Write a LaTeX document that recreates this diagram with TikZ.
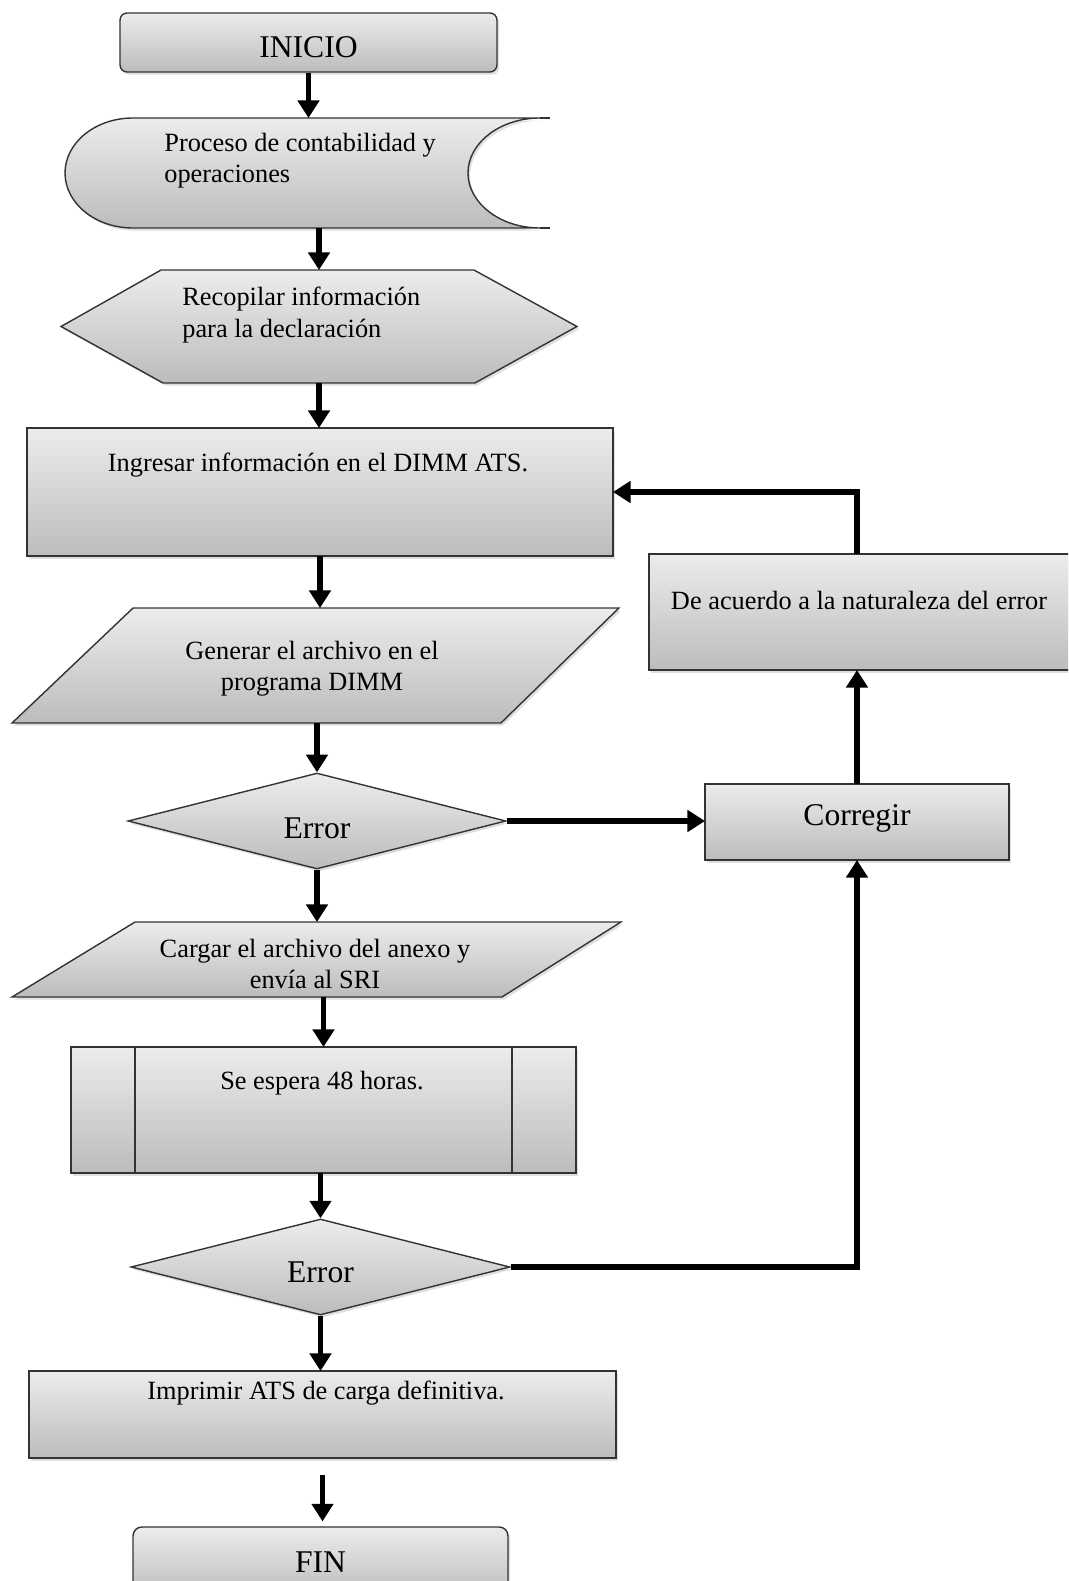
\documentclass[tikz,border=0pt]{standalone}
\usepackage{fontspec}
\setmainfont{Liberation Serif}
\definecolor{boxtop}{RGB}{236,236,236}
\definecolor{boxbot}{RGB}{188,188,188}
\usetikzlibrary{shapes.geometric, arrows.meta, calc, shadows}

\begin{document}
\begin{tikzpicture}[
  x=0.02cm, y=-0.02cm,
  boxfill/.style={draw=black!80, line width=0.8pt, top color=boxtop, bottom color=boxbot,
    drop shadow={opacity=0.25, shadow xshift=1.2pt, shadow yshift=-1.5pt}},
  boxframe/.style={inner sep=0pt, outer sep=0pt},
  txt/.style={font=\fontsize{15}{17.8}\selectfont, align=center, inner sep=0pt},
  bigtxt/.style={font=\fontsize{18}{21}\selectfont},
  flow/.style={line width=3.4pt, -{Triangle[width=12pt, length=10pt]}}
]
  \useasboundingbox (0,0) rectangle (1068,1581);
  \clip (0,0) rectangle (1068,1581);

  % main column
  \node[boxfill, rounded corners=4pt, minimum width=7.54cm, minimum height=1.18cm, bigtxt] (inicio) at (308.5,42.5) {\raisebox{-2.5pt}[\height][\depth]{INICIO}};

  \node[boxframe, minimum width=9.7cm, minimum height=2.2cm] (proceso) at (307.5,173) {};
  \draw[boxfill] (133,118) -- (540,118) .. controls (500,118) and (468,143) .. (468,173)
    .. controls (468,203) and (500,228) .. (540,228) -- (133,228)
    .. controls (95,228) and (65,203) .. (65,173) .. controls (65,143) and (95,118) .. (133,118) -- cycle;
  \draw[line width=0.8pt, draw=black!80] (540,118) -- (550,118) (540,228) -- (550,228);
  \node[txt, align=left, anchor=west] (proceso-t) at (164,161) {Proceso de contabilidad y\\operaciones};

  \node[boxframe, minimum width=10.32cm, minimum height=2.26cm] (recopilar) at (319,326.5) {};
  \draw[boxfill] (recopilar.west) -- ($(recopilar.north west)+(100,0)$) -- ($(recopilar.north east)+(-103,0)$)
    -- (recopilar.east) -- ($(recopilar.south east)+(-102,0)$) -- ($(recopilar.south west)+(102,0)$) -- cycle;
  \node[txt, align=left, anchor=west] (recopilar-t) at (182,315) {Recopilar información\\para la declaración};

  \node[boxfill, boxframe, minimum width=11.72cm, minimum height=2.56cm] (ingresar) at (320,492) {};
  \node[txt] (ingresar-t) at (318,465) {Ingresar información en el DIMM ATS.};

  \node[boxframe, minimum width=12.14cm, minimum height=2.3cm] (generar) at (315.5,665.5) {};
  \draw[boxfill] ($(generar.north west)+(121,0)$) -- (generar.north east)
    -- ($(generar.south east)+(-118,0)$) -- (generar.south west) -- cycle;
  \node[txt] (generar-t) at (312,669) {Generar el archivo en el\\programa DIMM};

  \node[boxfill, diamond, shape aspect=3.9, inner sep=0pt, minimum width=7.56cm, minimum height=1.92cm, bigtxt] (err1) at (317,821) {\raisebox{-4pt}[\height][\depth]{Error}};

  \node[boxframe, minimum width=12.18cm, minimum height=1.5cm] (cargar) at (316.5,959.5) {};
  \draw[boxfill] ($(cargar.north west)+(123,0)$) -- (cargar.north east)
    -- ($(cargar.south east)+(-119,0)$) -- (cargar.south west) -- cycle;
  \node[txt] (cargar-t) at (315,964) {Cargar el archivo del anexo y\\envía al SRI};

  \node[boxfill, boxframe, minimum width=10.1cm, minimum height=2.52cm] (espera) at (323.5,1110) {};
  \draw[line width=0.8pt, draw=black!80] ($(espera.north west)+(64,0)$) -- ($(espera.south west)+(64,0)$)
    ($(espera.north east)+(-64,0)$) -- ($(espera.south east)+(-64,0)$);
  \node[txt] (espera-t) at (322,1083) {Se espera 48 horas.};

  \node[boxfill, diamond, shape aspect=3.9, inner sep=0pt, minimum width=7.58cm, minimum height=1.92cm, bigtxt] (err2) at (320.5,1267) {\raisebox{-3pt}[\height][\depth]{Error}};

  \node[boxfill, boxframe, minimum width=11.74cm, minimum height=1.74cm] (imprimir) at (322.5,1414.5) {};
  \node[txt] (imprimir-t) at (326,1393) {Imprimir ATS de carga definitiva.};

  \node[boxfill, rounded corners=5pt, minimum width=7.5cm, minimum height=1.4cm, bigtxt] (fin) at (320.5,1562) {FIN};

  % side column
  \node[boxfill, boxframe, minimum width=8.42cm, minimum height=2.32cm] (acuerdo) at (859.5,612) {};
  \node[txt] (acuerdo-t) at (859,600) {De acuerdo a la naturaleza del error};

  \node[boxfill, boxframe, minimum width=6.08cm, minimum height=1.52cm, bigtxt] (corregir) at (857,822) {\raisebox{2pt}[\height][\depth]{Corregir}};

  % arrows
  \draw[flow] (inicio.south) -- (inicio.south |- proceso.north);
  \draw[flow] (recopilar.north |- proceso.south) -- (recopilar.north);
  \draw[flow] (recopilar.south) -- (recopilar.south |- ingresar.north);
  \draw[flow] (ingresar.south) -- (ingresar.south |- generar.north);
  \draw[flow] (err1.north |- generar.south) -- (err1.north);
  \draw[flow] (err1.south) -- (err1.south |- cargar.north);
  \draw[flow] (espera.north |- cargar.south) -- (espera.north);
  \draw[flow] (err2.north |- espera.south) -- (err2.north);
  \draw[flow] (err2.south) -- (err2.south |- imprimir.north);
  \draw[flow] ([yshift=-9.6pt]imprimir.south) -- ([yshift=2.8pt]imprimir.south |- fin.north);

  \draw[flow] (err1.east) -- (err1.east -| corregir.west);
  \draw[flow] (corregir.north) -- (corregir.north |- acuerdo.south);
  \draw[flow] (corregir.north |- acuerdo.north) |- (ingresar.east);
  \draw[flow] (err2.east) -| (corregir.south);
\end{tikzpicture}
\end{document}
